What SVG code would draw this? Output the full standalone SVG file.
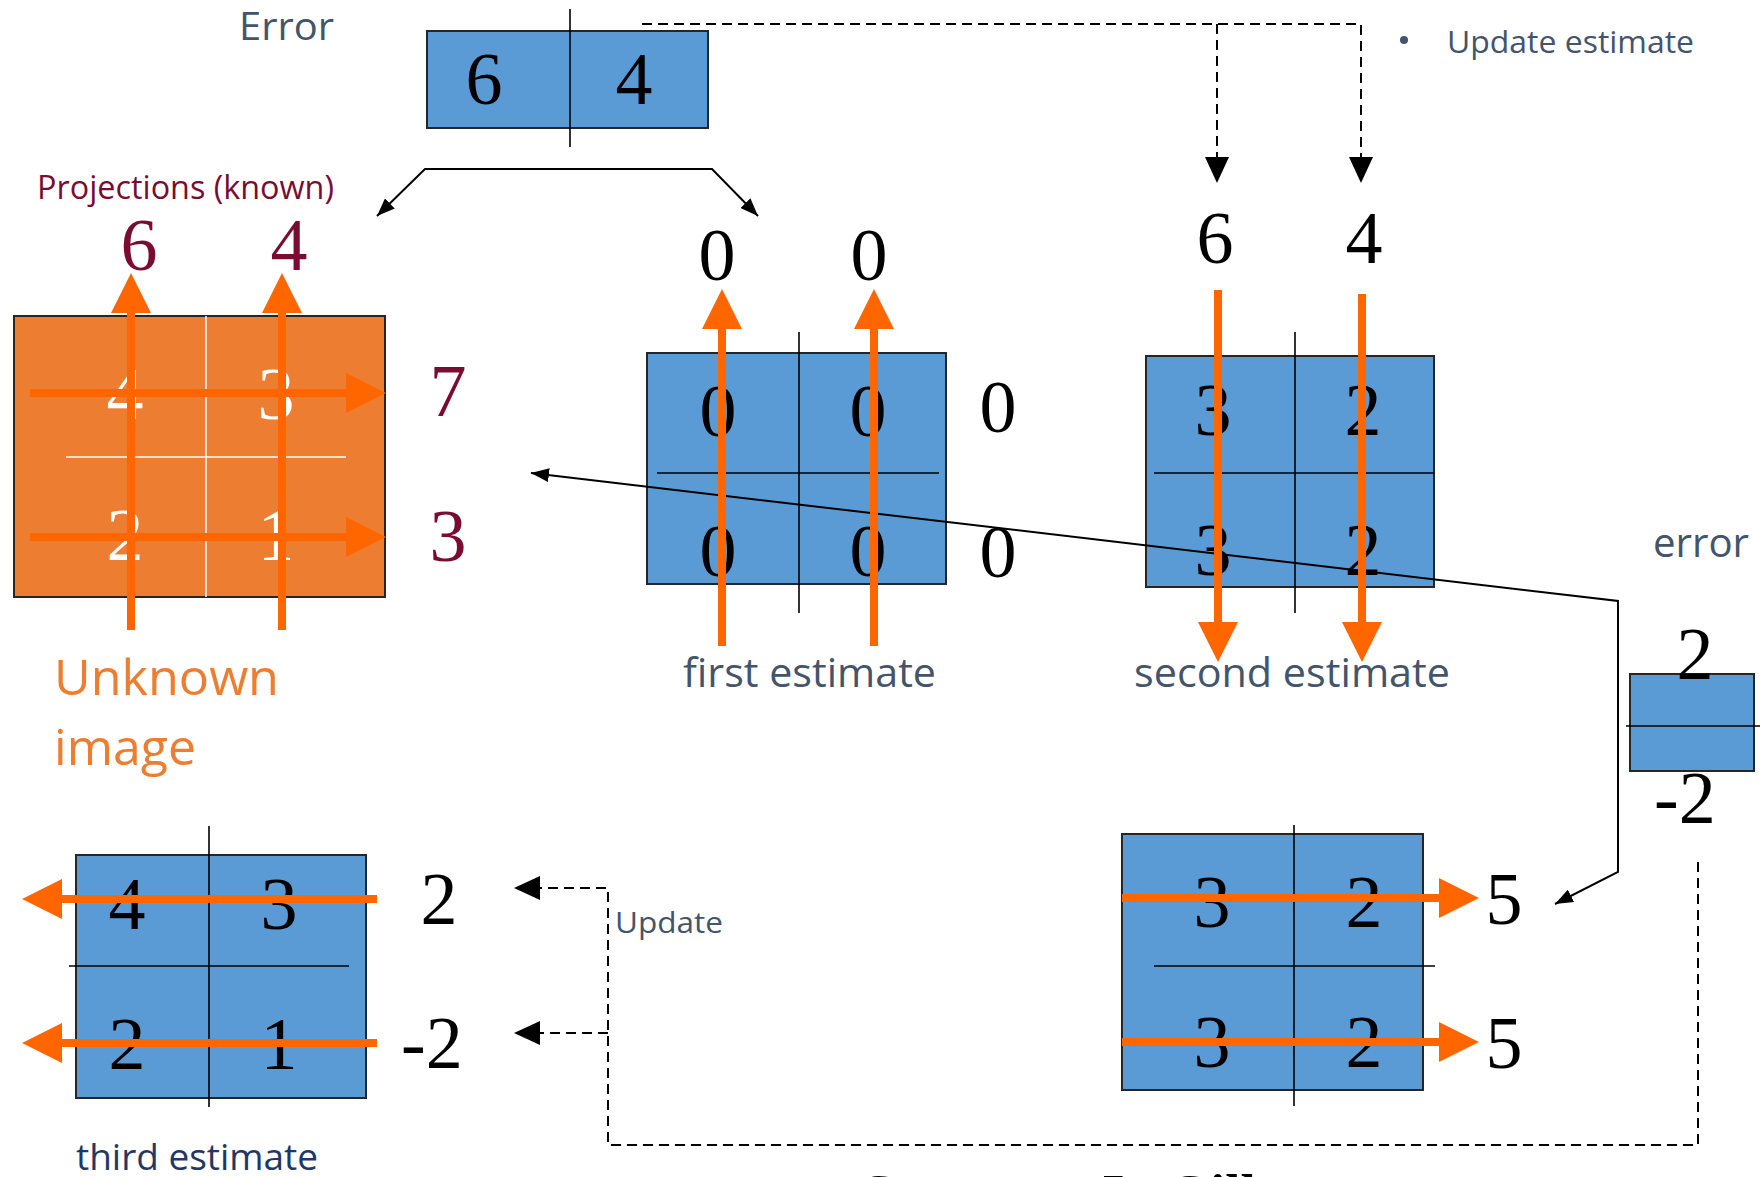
<svg xmlns="http://www.w3.org/2000/svg" width="1760" height="1177" viewBox="0 0 1760 1177">
<style>
.bx{fill:#5B9BD5;stroke:#262626;stroke-width:2}
.ob{fill:#ED7D31;stroke:#262626;stroke-width:2}
.dv{stroke:#000;stroke-width:1.6;fill:none}
.wl{stroke:#fff;stroke-width:1.5;fill:none}
.d{font-family:"Liberation Serif","Times New Roman",serif;font-size:74px;text-anchor:middle;fill:#000}
.ds{text-anchor:start}
.dm{fill:#7A0C32}
.dw{fill:#fff}
.lb{font-family:"Open Sans","Noto Sans",sans-serif;fill:#44546A}
.ray{stroke:#FF6600;stroke-width:8;fill:none;marker-end:url(#oh)}
.cn{stroke:#000;stroke-width:2;fill:none}
.dash{stroke:#000;stroke-width:2;fill:none;stroke-dasharray:10 6}
</style>
<defs>
<marker id="oh" markerUnits="userSpaceOnUse" markerWidth="40" markerHeight="40" refX="0" refY="20" orient="auto"><path d="M0,0 L40,20 L0,40 z" fill="#FF6600"/></marker>
<marker id="bh" markerUnits="userSpaceOnUse" markerWidth="18" markerHeight="14" refX="18" refY="7" orient="auto-start-reverse"><path d="M0,0 L18,7 L0,14 z" fill="#000"/></marker>
<marker id="dh" markerUnits="userSpaceOnUse" markerWidth="26" markerHeight="24" refX="26" refY="12" orient="auto"><path d="M0,0 L26,12 L0,24 z" fill="#000"/></marker>
</defs>
<rect width="1760" height="1177" fill="#fff"/>

<g id="error-top">
<text class="lb" x="239" y="40" font-size="39" textLength="95" lengthAdjust="spacingAndGlyphs">Error</text>
<rect class="bx" x="427" y="31" width="281" height="97"/>
<line class="dv" x1="570" y1="9" x2="570" y2="147"/>
<text class="d" x="484" y="104">6</text>
<text class="d" x="634" y="104">4</text>
</g>

<g id="update-estimate-label">
<circle cx="1404" cy="40" r="4" fill="#44546A"/>
<text class="lb" x="1447" y="53" font-size="31" textLength="247" lengthAdjust="spacingAndGlyphs">Update estimate</text>
</g>

<g id="unknown-image">
<text x="37" y="199" font-family="Open Sans, Noto Sans, sans-serif" font-size="33" fill="#7A0C32" textLength="297" lengthAdjust="spacingAndGlyphs">Projections (known)</text>
<text class="d dm" x="139" y="270">6</text>
<text class="d dm" x="289" y="270">4</text>
<rect class="ob" x="14" y="316" width="371" height="281"/>
<line class="wl" x1="206" y1="316" x2="206" y2="597"/>
<line class="wl" x1="66" y1="457" x2="346" y2="457"/>
<text class="d dw" x="125" y="419">4</text>
<text class="d dw" x="276" y="419">3</text>
<text class="d dw" x="125" y="560">2</text>
<text class="d dw" x="276" y="560">1</text>
<text class="d dm" x="448" y="416">7</text>
<text class="d dm" x="448" y="561">3</text>
<text x="54" y="695" font-family="Open Sans, Noto Sans, sans-serif" font-size="50" fill="#ED7D31" textLength="225" lengthAdjust="spacingAndGlyphs">Unknown</text>
<text x="54" y="765" font-family="Open Sans, Noto Sans, sans-serif" font-size="50" fill="#ED7D31" textLength="142" lengthAdjust="spacingAndGlyphs">image</text>
</g>

<g id="first-estimate">
<text class="d" x="717" y="280">0</text>
<text class="d" x="869" y="280">0</text>
<rect class="bx" x="647" y="353" width="299" height="231"/>
<line class="dv" x1="799" y1="332" x2="799" y2="613"/>
<line class="dv" x1="657" y1="473" x2="939" y2="473"/>
<text class="d" x="718" y="436">0</text>
<text class="d" x="868" y="436">0</text>
<text class="d" x="718" y="576">0</text>
<text class="d" x="868" y="576">0</text>
<text class="d" x="998" y="432">0</text>
<text class="d" x="998" y="577">0</text>
<text class="lb" x="683" y="687" font-size="41" textLength="253" lengthAdjust="spacingAndGlyphs">first estimate</text>
</g>

<g id="second-estimate">
<text class="d" x="1215" y="263">6</text>
<text class="d" x="1364" y="263">4</text>
<rect class="bx" x="1146" y="356" width="288" height="231"/>
<line class="dv" x1="1295" y1="332" x2="1295" y2="613"/>
<line class="dv" x1="1154" y1="473" x2="1434" y2="473"/>
<text class="d" x="1213" y="435">3</text>
<text class="d" x="1363" y="435">2</text>
<text class="d" x="1213" y="575">3</text>
<text class="d" x="1363" y="575">2</text>
<text class="lb" x="1134" y="687" font-size="41" textLength="316" lengthAdjust="spacingAndGlyphs">second estimate</text>
</g>

<g id="error-right">
<text class="lb" x="1653" y="557" font-size="40" textLength="96" lengthAdjust="spacingAndGlyphs">error</text>
<rect class="bx" x="1630" y="674" width="124" height="97"/>
<line class="dv" x1="1626" y1="726" x2="1760" y2="726"/>
<text class="d" x="1695" y="679">2</text>
<text class="d ds" x="1654" y="823">-2</text>
</g>

<g id="fourth-estimate">
<rect class="bx" x="1122" y="834" width="301" height="256"/>
<line class="dv" x1="1294" y1="825" x2="1294" y2="1106"/>
<line class="dv" x1="1154" y1="966" x2="1435" y2="966"/>
<text class="d" x="1212" y="927">3</text>
<text class="d" x="1364" y="927">2</text>
<text class="d" x="1212" y="1067">3</text>
<text class="d" x="1364" y="1067">2</text>
<text class="d" x="1504" y="924">5</text>
<text class="d" x="1504" y="1068">5</text>
</g>

<g id="third-estimate">
<rect class="bx" x="76" y="855" width="290" height="243"/>
<line class="dv" x1="209" y1="826" x2="209" y2="1107"/>
<line class="dv" x1="69" y1="966" x2="349" y2="966"/>
<text class="d" x="127" y="929">4</text>
<text class="d" x="279" y="929">3</text>
<text class="d" x="127" y="1069">2</text>
<text class="d" x="279" y="1069">1</text>
<text class="d" x="439" y="924">2</text>
<text class="d ds" x="401" y="1068">-2</text>
<text x="76" y="1170" font-family="Open Sans, Noto Sans, sans-serif" font-size="37" fill="#1F3864" textLength="242" lengthAdjust="spacingAndGlyphs">third estimate</text>
</g>

<g id="update-label">
<text class="lb" x="615" y="933" font-size="30" textLength="108" lengthAdjust="spacingAndGlyphs">Update</text>
</g>

<g id="caption">
<text x="857" y="1212" font-family="Liberation Serif, Times New Roman, serif" font-size="55" font-weight="bold" fill="#000">Courtesy: L. Gill</text>
</g>

<g id="connectors">
<path class="dash" d="M642,24 H1361 V183" marker-end="url(#dh)"/>
<path class="dash" d="M1217,24 V183" marker-end="url(#dh)"/>
<path class="dash" d="M1698,862 V1145 H608 V888 H514" marker-end="url(#dh)"/>
<path class="dash" d="M608,1033 H514" marker-end="url(#dh)"/>
<path class="cn" d="M377,216 L425,169 H712 L758,216" marker-start="url(#bh)" marker-end="url(#bh)"/>
<path class="cn" d="M1555,904 L1618,872 V601 L531,473" marker-start="url(#bh)" marker-end="url(#bh)"/>
</g>

<g id="rays">
<line class="ray" x1="131" y1="630" x2="131" y2="313"/>
<line class="ray" x1="282" y1="630" x2="282" y2="313"/>
<line class="ray" x1="30" y1="393" x2="346" y2="393"/>
<line class="ray" x1="30" y1="537" x2="346" y2="537"/>
<line class="ray" x1="722" y1="646" x2="722" y2="329"/>
<line class="ray" x1="874" y1="646" x2="874" y2="329"/>
<line class="ray" x1="1218" y1="290" x2="1218" y2="622"/>
<line class="ray" x1="1362" y1="294" x2="1362" y2="622"/>
<line class="ray" x1="377" y1="899" x2="62" y2="899"/>
<line class="ray" x1="377" y1="1043" x2="62" y2="1043"/>
<line class="ray" x1="1122" y1="898" x2="1439" y2="898"/>
<line class="ray" x1="1122" y1="1042" x2="1439" y2="1042"/>
</g>
</svg>
